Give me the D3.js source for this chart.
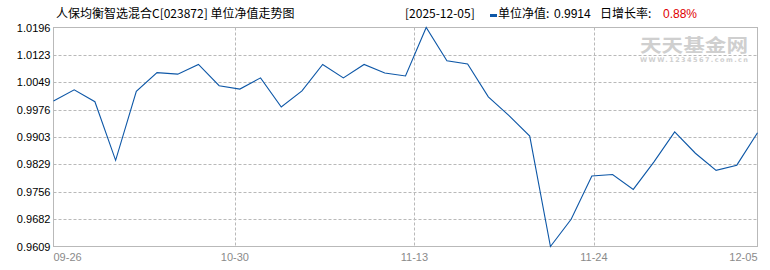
<!DOCTYPE html>
<html><head><meta charset="utf-8">
<script src="https://cdn.jsdelivr.net/npm/d3@7/dist/d3.min.js"></script>
<style>
html,body{margin:0;padding:0;background:#fff;}
svg{display:block;}
</style></head>
<body>
<svg id="c" width="770" height="270"></svg>
<script>
// ---- data ----
const navValues = [0.9999, 1.0029, 0.9997, 0.9840, 1.0025, 1.0075, 1.0071, 1.0097, 1.0040, 1.0031,
  1.0061, 0.9983, 1.0026, 1.0097, 1.0061, 1.0097, 1.0074, 1.0066, 1.0196, 1.0107,
  1.0098, 1.0010, 0.9960, 0.9905, 0.9609, 0.9682, 0.9798, 0.9802, 0.9762, 0.9836,
  0.9916, 0.9859, 0.9813, 0.9827, 0.9914];
const yTickValues = [0.9609, 0.9682, 0.9756, 0.9829, 0.9903, 0.9976, 1.0049, 1.0123, 1.0196];
const xTickLabels = ["09-26", "10-30", "11-13", "11-24", "12-05"];
const xTickIndex = [0, 8.76, 17.43, 26.1, 34];
const titleText = "人保均衡智选混合C[023872] 单位净值走势图";
const latestDate = "[2025-12-05]";
const latestNav = "0.9914";
const latestRate = "0.88%";

// ---- layout ----
const L = 53.5, R = 757.5, T = 27.5, B = 246.5;
const blue = "#0d57a7", grid = "#b9b9b9";
const svg = d3.select("#c");

const x = d3.scaleLinear().domain([0, navValues.length - 1]).range([L, R]);
const y = d3.scaleLinear().domain([yTickValues[0], yTickValues[yTickValues.length - 1]]).range([B, T]);

// horizontal grid
svg.append("g").selectAll("line").data(yTickValues.slice(1, -1)).join("line")
  .attr("x1", L).attr("x2", R)
  .attr("y1", d => Math.round(y(d)) + 0.5).attr("y2", d => Math.round(y(d)) + 0.5)
  .attr("stroke", grid).attr("stroke-dasharray", "3,2").attr("stroke-width", 1);

// vertical grid
svg.append("g").selectAll("line").data(xTickIndex.slice(1, -1)).join("line")
  .attr("x1", d => Math.round(x(d)) + 0.5).attr("x2", d => Math.round(x(d)) + 0.5)
  .attr("y1", T).attr("y2", B)
  .attr("stroke", grid).attr("stroke-dasharray", "3,2").attr("stroke-width", 1);

// watermark
svg.append("text").attr("x", 640).attr("y", 52)
  .attr("font-family", "'Noto Sans CJK SC', sans-serif").attr("font-weight", "bold")
  .attr("font-size", 18).attr("fill", "#cfcfcf")
  .attr("textLength", 108).attr("lengthAdjust", "spacingAndGlyphs")
  .text("天天基金网");
svg.append("text").attr("x", 640).attr("y", 62)
  .attr("font-family", "'DejaVu Sans', sans-serif").attr("font-weight", "bold")
  .attr("font-size", 6.5).attr("fill", "#cfcfcf")
  .attr("textLength", 108).attr("lengthAdjust", "spacing")
  .text("WWW.1234567.com.cn");

// frame
svg.append("rect").attr("x", L).attr("y", T).attr("width", R - L).attr("height", B - T)
  .attr("fill", "none").attr("stroke", grid).attr("stroke-width", 1);

// line
const line = d3.line().x((d, i) => x(i)).y(d => y(d));
svg.append("path").datum(navValues).attr("d", line)
  .attr("fill", "none").attr("stroke", blue).attr("stroke-width", 1.1);

// y axis labels
const yAxis = d3.axisLeft(y).tickValues(yTickValues).tickFormat(d3.format(".4f")).tickSize(0).tickPadding(3);
const gy = svg.append("g").attr("transform", `translate(${L},0)`).call(yAxis);
gy.select(".domain").remove();
gy.selectAll("text").attr("font-family", "'Liberation Sans', Arial, sans-serif")
  .attr("font-size", 11).attr("fill", "#000");

// x axis labels
const gx = svg.append("g");
gx.selectAll("text").data(xTickLabels).join("text")
  .attr("x", (d, i) => x(xTickIndex[i]))
  .attr("y", 261)
  .attr("text-anchor", (d, i) => i === 0 ? "start" : (i === xTickLabels.length - 1 ? "end" : "middle"))
  .attr("font-family", "'Liberation Sans', Arial, sans-serif")
  .attr("font-size", 11).attr("fill", "#8a8a8a")
  .text(d => d);

// title
const cjk = "'Noto Sans CJK SC', 'Noto Sans', sans-serif";
svg.append("text").attr("x", 56).attr("y", 18).attr("font-family", cjk)
  .attr("font-size", 12).attr("fill", "#000").text(titleText);

// header right
svg.append("text").attr("x", 405).attr("y", 18).attr("font-family", cjk)
  .attr("font-size", 12).attr("fill", "#000").text(latestDate);
svg.append("rect").attr("x", 490).attr("y", 14).attr("width", 7).attr("height", 3).attr("fill", blue);
svg.append("text").attr("x", 498).attr("y", 18).attr("font-family", cjk)
  .attr("font-size", 12).attr("fill", "#000").text("单位净值: ");
svg.append("text").attr("x", 554).attr("y", 18).attr("font-family", "'Liberation Sans', Arial, sans-serif")
  .attr("font-size", 12).attr("fill", "#000").text(latestNav);
svg.append("text").attr("x", 600).attr("y", 18).attr("font-family", cjk)
  .attr("font-size", 12).attr("fill", "#000").text("日增长率: ");
svg.append("text").attr("x", 663).attr("y", 18).attr("font-family", "'Liberation Sans', Arial, sans-serif")
  .attr("font-size", 12).attr("fill", "#e00000").text(latestRate);
</script>
</body></html>
